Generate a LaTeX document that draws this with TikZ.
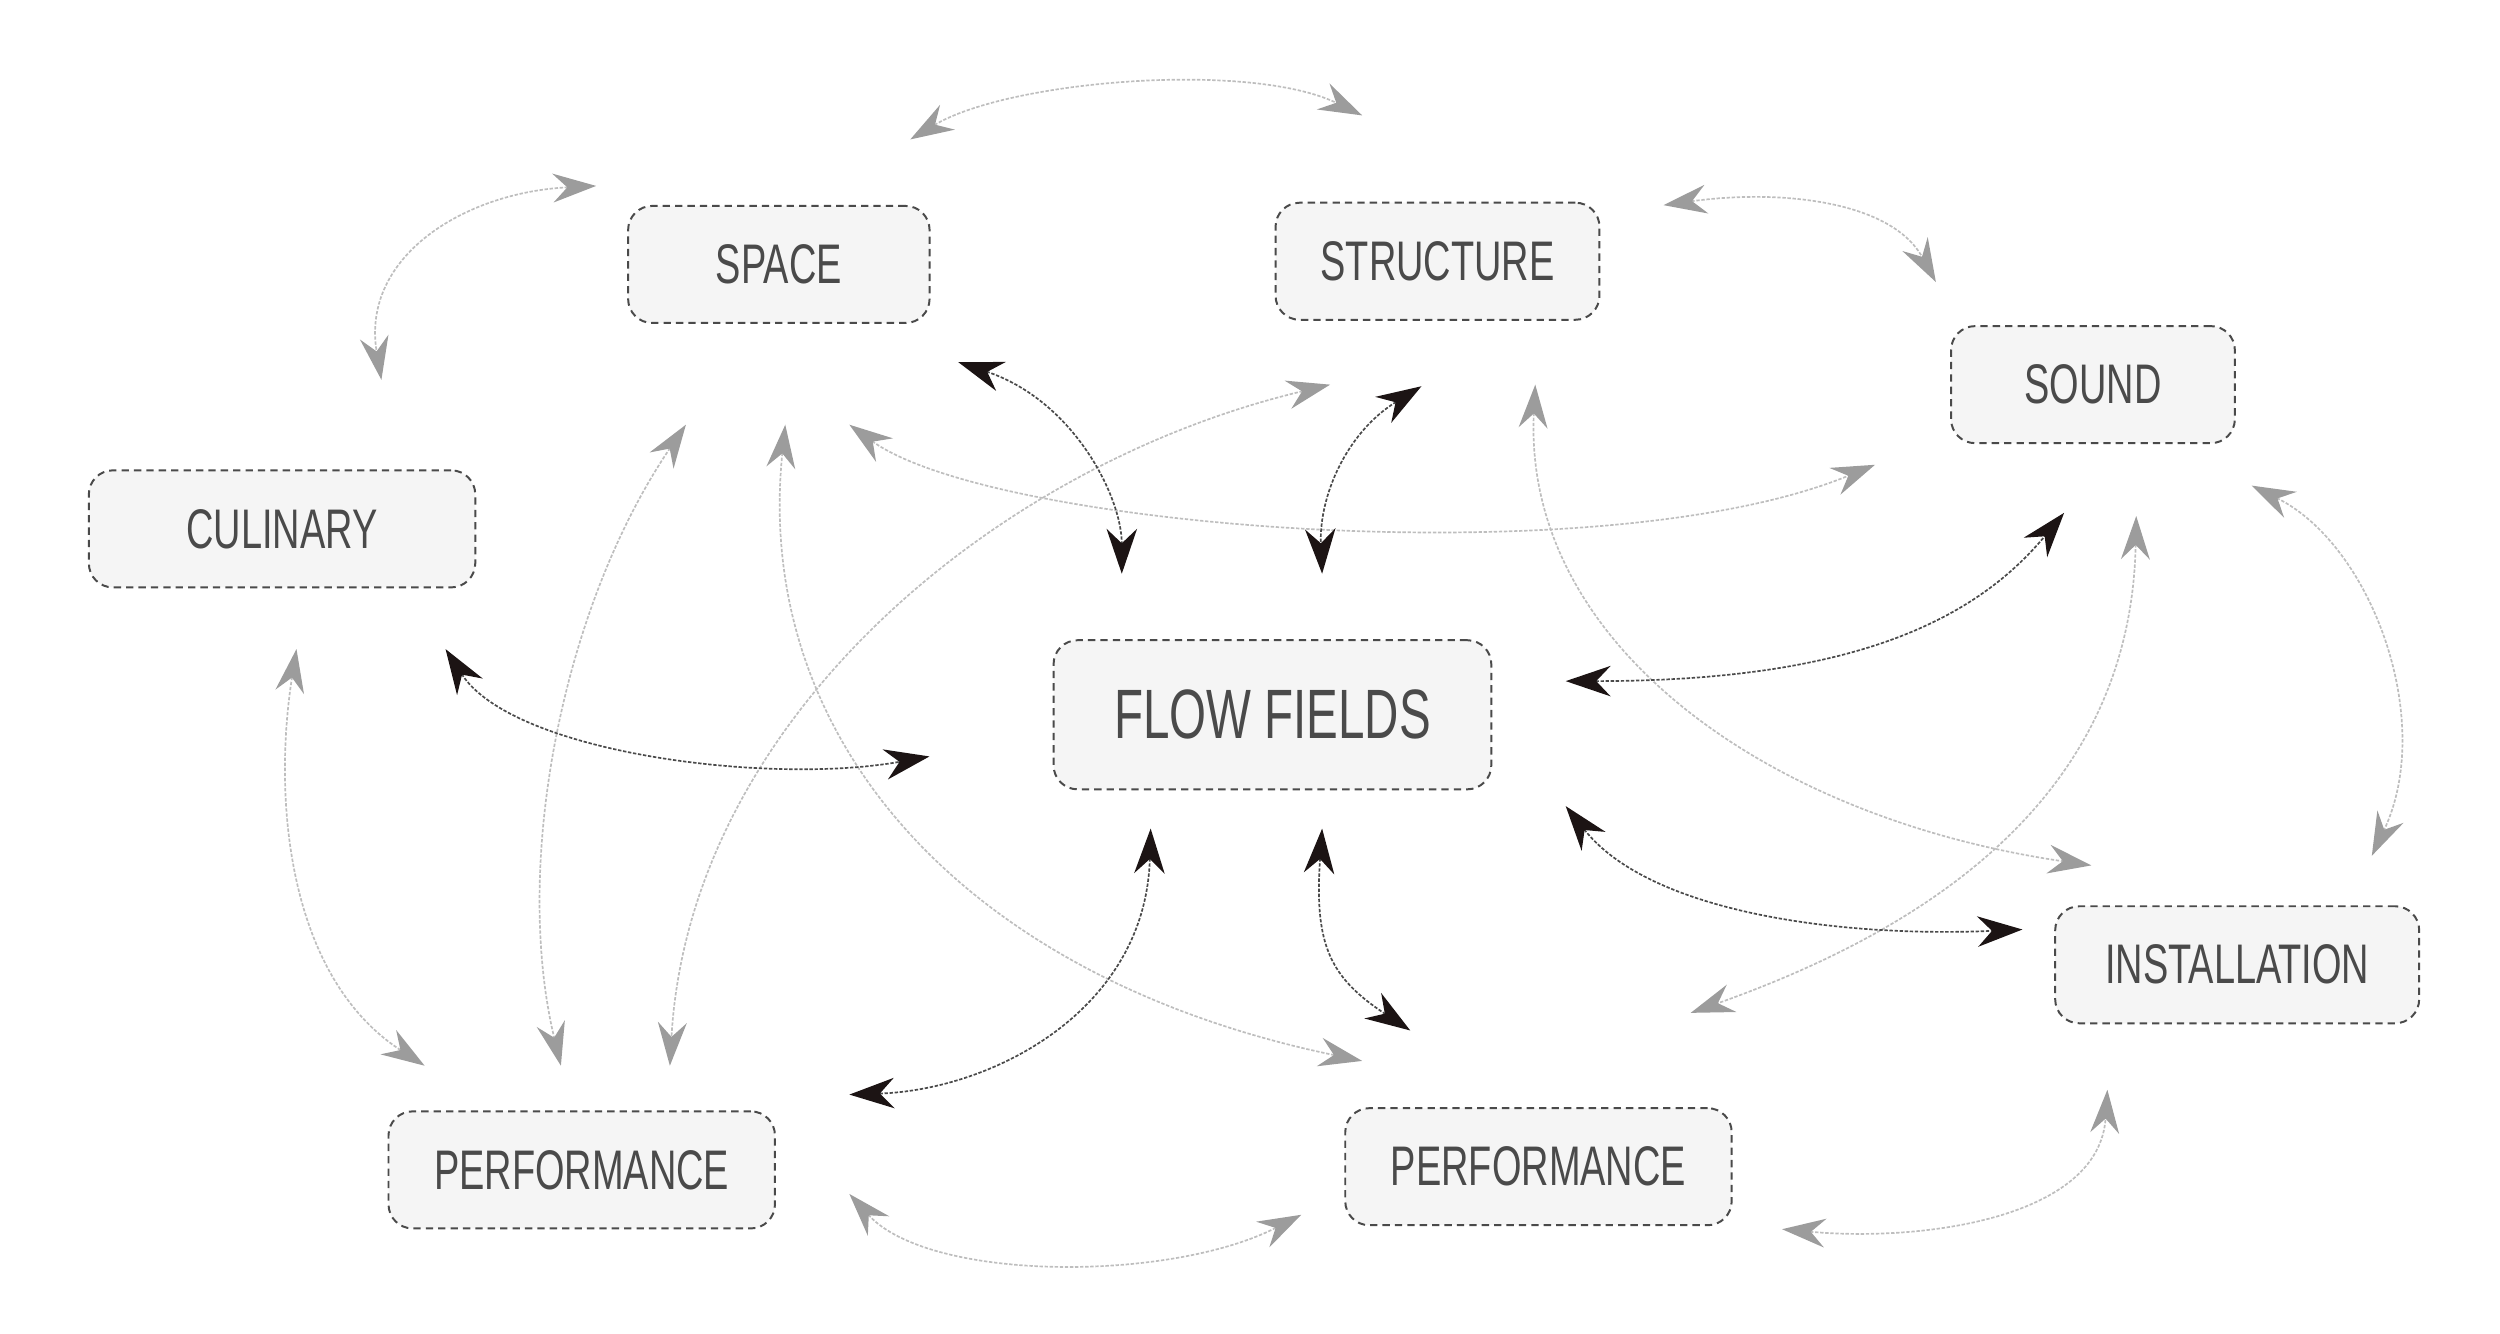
\documentclass[tikz,border=0pt]{standalone}
\usepackage{fontspec}
\setmainfont{Liberation Sans}[FakeStretch=0.68]
\usetikzlibrary{arrows.meta}
\definecolor{boxfill}{HTML}{F5F5F5}
\definecolor{boxline}{HTML}{4A4A4A}
\definecolor{boxtext}{HTML}{4A4A4A}
\definecolor{lightline}{HTML}{BEBEBE}
\definecolor{lighttip}{HTML}{9C9C9C}
\definecolor{darkline}{HTML}{4A4A4A}
\definecolor{darktip}{HTML}{1C1414}
\tikzset{
  box/.style={draw=boxline, fill=boxfill, rounded corners=0.15cm,
    dash pattern=on 1.3pt off 0.9pt, line width=0.35pt, text=boxtext,
    inner sep=0pt, minimum height=0.73cm,
    font=\fontsize{9.9}{11}\selectfont},
  bigbox/.style={box, minimum height=0.93cm, font=\fontsize{12.4}{14}\selectfont},
  lightlink/.style={draw=lightline, line width=0.3pt, dash pattern=on 0.6pt off 0.3pt,
    {Stealth[length=0.27cm,width=0.18cm,inset=0.09cm,color=lighttip,fill=lighttip]}-{Stealth[length=0.27cm,width=0.18cm,inset=0.09cm,color=lighttip,fill=lighttip]}},
  darklink/.style={draw=darkline, line width=0.3pt, dash pattern=on 0.6pt off 0.3pt,
    {Stealth[length=0.28cm,width=0.19cm,inset=0.09cm,color=darktip,fill=darktip]}-{Stealth[length=0.28cm,width=0.19cm,inset=0.09cm,color=darktip,fill=darktip]}}
}
\begin{document}
\begin{tikzpicture}[x=0.01cm,y=-0.01cm]
\useasboundingbox (0,0) rectangle (1560,832);
% nodes
\node[box, minimum width=1.88cm] (space) at (486,165) {SPACE};
\node[box, minimum width=2.02cm] (structure) at (897,163) {STRUCTURE};
\node[box, minimum width=1.77cm] (sound) at (1306,240) {SOUND};
\node[box, minimum width=2.41cm] (culinary) at (176,330) {CULINARY};
\node[bigbox, minimum width=2.73cm] (flow) at (794,446) {FLOW FIELDS};
\node[box, minimum width=2.27cm] (install) at (1396,602) {INSTALLATION};
\node[box, minimum width=2.41cm] (perfL) at (363,730) {PERFORMANCE};
\node[box, minimum width=2.41cm] (perfR) at (960,728) {PERFORMANCE};
% free ends of connectors
\coordinate (g1a) at (568,87);   \coordinate (g1b) at (850,72);
\coordinate (g2a) at (372,116);  \coordinate (g2b) at (238,237);
\coordinate (g3a) at (1038,128); \coordinate (g3b) at (1208,176);
\coordinate (g4a) at (185,405);  \coordinate (g4b) at (265,665);
\coordinate (g5a) at (428,265);  \coordinate (g5b) at (350,665);
\coordinate (g6a) at (490,265);  \coordinate (g6b) at (850,662);
\coordinate (g7a) at (830,240);  \coordinate (g7b) at (418,665);
\coordinate (g8a) at (530,265);  \coordinate (g8b) at (1170,290);
\coordinate (g9a) at (958,240);  \coordinate (g9b) at (1305,540);
\coordinate (g10a) at (1333,322); \coordinate (g10b) at (1055,632);
\coordinate (g11a) at (1405,303); \coordinate (g11b) at (1480,534);
\coordinate (g12a) at (530,745); \coordinate (g12b) at (812,758);
\coordinate (g13a) at (1112,767); \coordinate (g13b) at (1315,680);
\coordinate (kAa) at (598,226);  \coordinate (kAb) at (700,358);
\coordinate (kBa) at (887,241);  \coordinate (kBb) at (825,358);
\coordinate (kCa) at (278,405);  \coordinate (kCb) at (580,472);
\coordinate (kDa) at (977,425);  \coordinate (kDb) at (1288,320);
\coordinate (kEa) at (977,503);  \coordinate (kEb) at (1262,580);
\coordinate (kFa) at (718,517);  \coordinate (kFb) at (530,683);
\coordinate (kGa) at (825,517);  \coordinate (kGb) at (880,643);
% light connectors
\draw[lightlink] (g1a) .. controls (630,50) and (780,38) .. (g1b);
\draw[lightlink] (g2a) .. controls (290,120) and (225,160) .. (g2b);
\draw[lightlink] (g3a) .. controls (1110,118) and (1180,125) .. (g3b);
\draw[lightlink] (g4a) .. controls (170,500) and (180,610) .. (g4b);
\draw[lightlink] (g5a) .. controls (350,380) and (320,540) .. (g5b);
\draw[lightlink] (g6a) .. controls (470,460) and (600,610) .. (g6b);
\draw[lightlink] (g7a) .. controls (620,290) and (430,450) .. (g7b);
\draw[lightlink] (g8a) .. controls (620,330) and (1000,360) .. (g8b);
\draw[lightlink] (g9a) .. controls (950,400) and (1100,510) .. (g9b);
\draw[lightlink] (g10a) .. controls (1330,480) and (1230,570) .. (g10b);
\draw[lightlink] (g11a) .. controls (1480,340) and (1520,450) .. (g11b);
\draw[lightlink] (g12a) .. controls (580,800) and (730,800) .. (g12b);
\draw[lightlink] (g13a) .. controls (1200,775) and (1310,760) .. (g13b);
% dark connectors
\draw[darklink] (kAa) .. controls (670,250) and (700,310) .. (kAb);
\draw[darklink] (kBa) .. controls (840,270) and (823,310) .. (kBb);
\draw[darklink] (kCa) .. controls (320,470) and (480,490) .. (kCb);
\draw[darklink] (kDa) .. controls (1150,425) and (1230,390) .. (kDb);
\draw[darklink] (kEa) .. controls (1030,570) and (1150,585) .. (kEb);
\draw[darklink] (kFa) .. controls (715,630) and (620,680) .. (kFb);
\draw[darklink] (kGa) .. controls (820,590) and (830,610) .. (kGb);
\end{tikzpicture}
\end{document}
